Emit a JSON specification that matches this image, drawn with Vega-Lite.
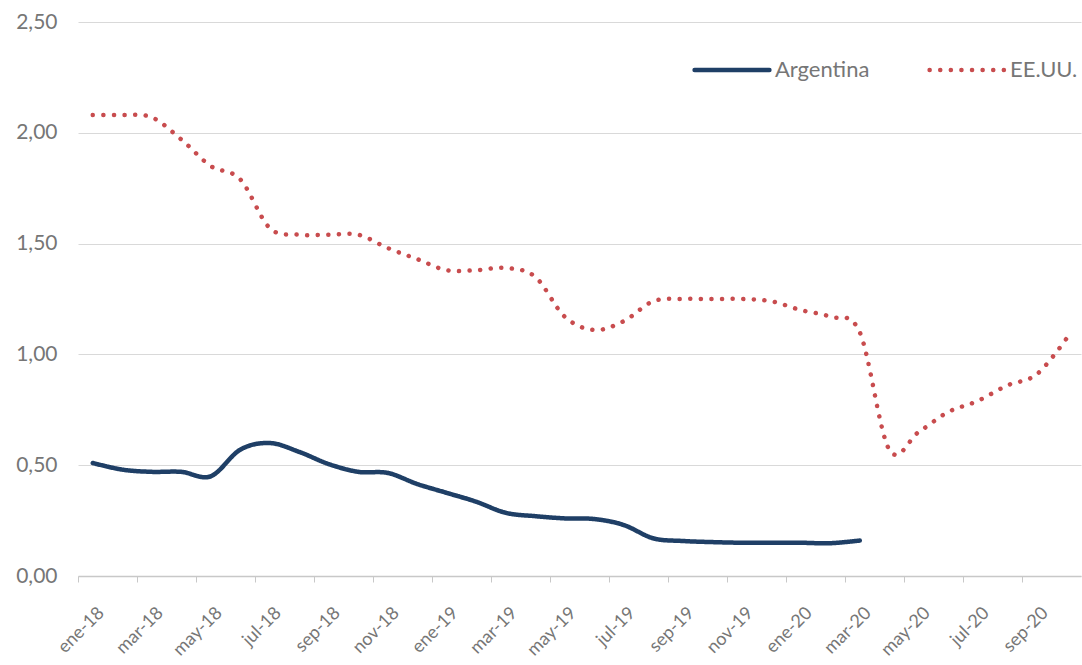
{
  "$schema": "https://vega.github.io/schema/vega-lite/v6.json",
  "width": 1003,
  "height": 554,
  "autosize": "none",
  "padding": {"left": 78, "top": 22, "right": 1, "bottom": 89},
  "background": "white",
  "config": {"view": {"stroke": null}, "font": "Lato"},
  "data": {"values": [
    {"mes": "ene-18", "n": 0, "serie": "EE.UU.", "valor": 2.08},
    {"mes": "feb-18", "n": 1, "serie": "EE.UU.", "valor": 2.08},
    {"mes": "mar-18", "n": 2, "serie": "EE.UU.", "valor": 2.07},
    {"mes": "abr-18", "n": 3, "serie": "EE.UU.", "valor": 1.97},
    {"mes": "may-18", "n": 4, "serie": "EE.UU.", "valor": 1.85},
    {"mes": "jun-18", "n": 5, "serie": "EE.UU.", "valor": 1.79},
    {"mes": "jul-18", "n": 6, "serie": "EE.UU.", "valor": 1.57},
    {"mes": "ago-18", "n": 7, "serie": "EE.UU.", "valor": 1.54},
    {"mes": "sep-18", "n": 8, "serie": "EE.UU.", "valor": 1.54},
    {"mes": "oct-18", "n": 9, "serie": "EE.UU.", "valor": 1.54},
    {"mes": "nov-18", "n": 10, "serie": "EE.UU.", "valor": 1.48},
    {"mes": "dic-18", "n": 11, "serie": "EE.UU.", "valor": 1.43},
    {"mes": "ene-19", "n": 12, "serie": "EE.UU.", "valor": 1.38},
    {"mes": "feb-19", "n": 13, "serie": "EE.UU.", "valor": 1.38},
    {"mes": "mar-19", "n": 14, "serie": "EE.UU.", "valor": 1.39},
    {"mes": "abr-19", "n": 15, "serie": "EE.UU.", "valor": 1.35},
    {"mes": "may-19", "n": 16, "serie": "EE.UU.", "valor": 1.17},
    {"mes": "jun-19", "n": 17, "serie": "EE.UU.", "valor": 1.11},
    {"mes": "jul-19", "n": 18, "serie": "EE.UU.", "valor": 1.15},
    {"mes": "ago-19", "n": 19, "serie": "EE.UU.", "valor": 1.24},
    {"mes": "sep-19", "n": 20, "serie": "EE.UU.", "valor": 1.25},
    {"mes": "oct-19", "n": 21, "serie": "EE.UU.", "valor": 1.25},
    {"mes": "nov-19", "n": 22, "serie": "EE.UU.", "valor": 1.25},
    {"mes": "dic-19", "n": 23, "serie": "EE.UU.", "valor": 1.24},
    {"mes": "ene-20", "n": 24, "serie": "EE.UU.", "valor": 1.20},
    {"mes": "feb-20", "n": 25, "serie": "EE.UU.", "valor": 1.17},
    {"mes": "mar-20", "n": 26, "serie": "EE.UU.", "valor": 1.10},
    {"mes": "abr-20", "n": 27, "serie": "EE.UU.", "valor": 0.57},
    {"mes": "may-20", "n": 28, "serie": "EE.UU.", "valor": 0.65},
    {"mes": "jun-20", "n": 29, "serie": "EE.UU.", "valor": 0.74},
    {"mes": "jul-20", "n": 30, "serie": "EE.UU.", "valor": 0.79},
    {"mes": "ago-20", "n": 31, "serie": "EE.UU.", "valor": 0.86},
    {"mes": "sep-20", "n": 32, "serie": "EE.UU.", "valor": 0.91},
    {"mes": "oct-20", "n": 33, "serie": "EE.UU.", "valor": 1.07},
    {"mes": "ene-18", "n": 0, "serie": "Argentina", "valor": 0.51},
    {"mes": "feb-18", "n": 1, "serie": "Argentina", "valor": 0.48},
    {"mes": "mar-18", "n": 2, "serie": "Argentina", "valor": 0.47},
    {"mes": "abr-18", "n": 3, "serie": "Argentina", "valor": 0.47},
    {"mes": "may-18", "n": 4, "serie": "Argentina", "valor": 0.45},
    {"mes": "jun-18", "n": 5, "serie": "Argentina", "valor": 0.57},
    {"mes": "jul-18", "n": 6, "serie": "Argentina", "valor": 0.60},
    {"mes": "ago-18", "n": 7, "serie": "Argentina", "valor": 0.56},
    {"mes": "sep-18", "n": 8, "serie": "Argentina", "valor": 0.505},
    {"mes": "oct-18", "n": 9, "serie": "Argentina", "valor": 0.47},
    {"mes": "nov-18", "n": 10, "serie": "Argentina", "valor": 0.465},
    {"mes": "dic-18", "n": 11, "serie": "Argentina", "valor": 0.415},
    {"mes": "ene-19", "n": 12, "serie": "Argentina", "valor": 0.375},
    {"mes": "feb-19", "n": 13, "serie": "Argentina", "valor": 0.335},
    {"mes": "mar-19", "n": 14, "serie": "Argentina", "valor": 0.285},
    {"mes": "abr-19", "n": 15, "serie": "Argentina", "valor": 0.27},
    {"mes": "may-19", "n": 16, "serie": "Argentina", "valor": 0.26},
    {"mes": "jun-19", "n": 17, "serie": "Argentina", "valor": 0.257},
    {"mes": "jul-19", "n": 18, "serie": "Argentina", "valor": 0.23},
    {"mes": "ago-19", "n": 19, "serie": "Argentina", "valor": 0.17},
    {"mes": "sep-19", "n": 20, "serie": "Argentina", "valor": 0.158},
    {"mes": "oct-19", "n": 21, "serie": "Argentina", "valor": 0.153},
    {"mes": "nov-19", "n": 22, "serie": "Argentina", "valor": 0.15},
    {"mes": "dic-19", "n": 23, "serie": "Argentina", "valor": 0.15},
    {"mes": "ene-20", "n": 24, "serie": "Argentina", "valor": 0.15},
    {"mes": "feb-20", "n": 25, "serie": "Argentina", "valor": 0.148},
    {"mes": "mar-20", "n": 26, "serie": "Argentina", "valor": 0.16}
  ]},
  "mark": {"type": "line", "interpolate": "cardinal", "strokeCap": "round", "strokeWidth": 4.5},
  "encoding": {
    "x": {
      "field": "mes", "type": "ordinal",
      "sort": {"field": "n", "op": "min"},
      "scale": {"type": "point", "padding": 0.5},
      "axis": {
        "title": null,
        "values": ["ene-18","mar-18","may-18","jul-18","sep-18","nov-18","ene-19","mar-19","may-19","jul-19","sep-19","nov-19","ene-20","mar-20","may-20","jul-20","sep-20"],
        "labelAngle": -45,
        "labelAlign": "right",
        "labelBaseline": "middle",
        "labelFont": "Lato",
        "labelFontSize": 18,
        "labelColor": "#767676",
        "labelPadding": 28,
        "domainColor": "#c8c8c8",
        "domainWidth": 1.5,
        "tickColor": "#c8c8c8",
        "tickSize": 6,
        "tickWidth": 1,
        "tickOffset": -14.75,
        "labelOffset": 23,
        "grid": false
      }
    },
    "y": {
      "field": "valor", "type": "quantitative",
      "scale": {"domain": [0, 2.5], "nice": false, "zero": true},
      "axis": {
        "title": null,
        "values": [0, 0.5, 1, 1.5, 2, 2.5],
        "labelExpr": "replace(format(datum.value, '.2f'), '.', ',')",
        "labelFont": "Lato",
        "labelFontSize": 21,
        "labelColor": "#767676",
        "labelPadding": 21,
        "domain": false,
        "ticks": false,
        "grid": true,
        "gridColor": "#d9d9d9",
        "gridWidth": 1.2
      }
    },
    "color": {
      "field": "serie", "type": "nominal",
      "scale": {"domain": ["Argentina", "EE.UU."], "range": ["#1f3f66", "#c84c4e"]},
      "legend": {
        "title": null,
        "orient": "none",
        "direction": "horizontal",
        "legendX": 614,
        "legendY": 8,
        "padding": 0,
        "symbolType": "stroke",
        "symbolSize": 5600,
        "symbolStrokeWidth": 4.5,
        "labelFont": "Lato",
        "labelFontSize": 22,
        "labelColor": "#767676",
        "labelOffset": 3,
        "columnPadding": 50,
        "encode": {"symbols": {"update": {"strokeCap": {"value": "round"}}}}
      }
    },
    "strokeDash": {
      "field": "serie", "type": "nominal",
      "scale": {"domain": ["Argentina", "EE.UU."], "range": [[1, 0], [0.1, 10.5]]},
      "legend": {
        "title": null,
        "orient": "none",
        "direction": "horizontal",
        "legendX": 614,
        "legendY": 8,
        "padding": 0,
        "symbolType": "stroke",
        "symbolSize": 5600,
        "symbolStrokeWidth": 4.5,
        "labelFont": "Lato",
        "labelFontSize": 22,
        "labelColor": "#767676",
        "labelOffset": 3,
        "columnPadding": 50,
        "encode": {"symbols": {"update": {"strokeCap": {"value": "round"}}}}
      }
    },
    "order": {"field": "n", "type": "quantitative"}
  }
}
